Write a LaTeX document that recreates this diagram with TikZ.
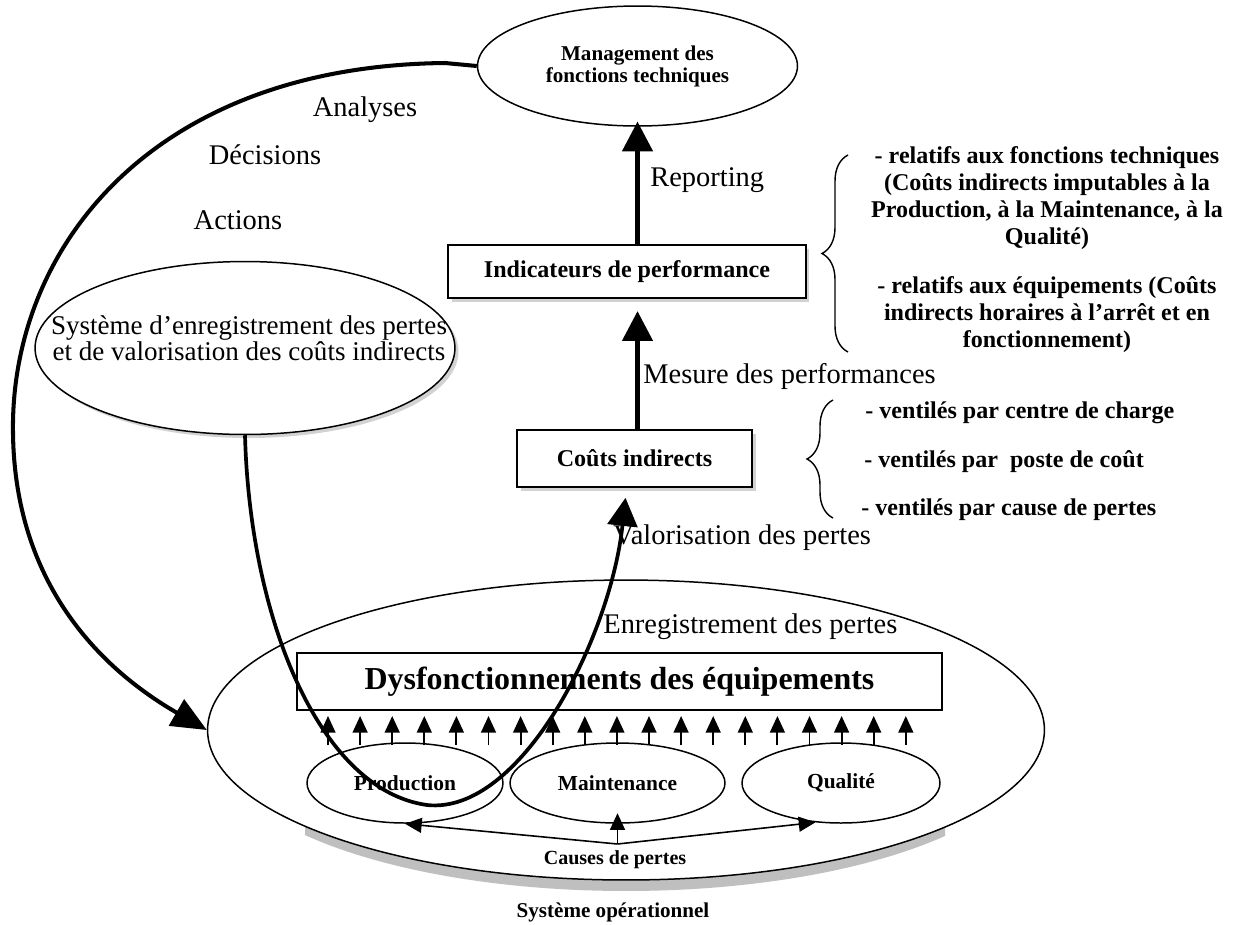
\documentclass[tikz,border=0pt]{standalone}
\usepackage{fontspec}
\setmainfont{Liberation Serif}
\usetikzlibrary{arrows.meta,shapes.geometric,decorations.pathreplacing,shadows,calc}
\begin{document}
\begin{tikzpicture}[x=0.02cm,y=-0.02cm,
  lbl/.style={inner sep=0pt,font=\fontsize{16.2}{19}\selectfont},
  shad/.style={drop shadow={shadow xshift=2pt,shadow yshift=-2pt,fill=gray!70}},
  bx/.style={draw,line width=0.9pt,fill=white,inner sep=0pt,font=\bfseries\fontsize{13.7}{16}\selectfont,shad},
  ell/.style={draw,ellipse,line width=0.85pt,inner sep=0pt,fill=white},
  smallell/.style={ell,minimum height=1.6cm,font=\bfseries\fontsize{12.2}{14}\selectfont},
  bigarrow/.style={line width=2.8pt,-{Triangle[length=17pt,width=17pt]}},
  curve/.style={line width=2.3pt},
  smallarr/.style={line width=1.1pt,-{Triangle[length=9.5pt,width=8.5pt]}},
  boldtxt/.style={inner sep=0pt,font=\bfseries\fontsize{13.7}{15.4}\selectfont,align=center},
  brc/.style={line width=0.8pt,decorate,decoration={brace,amplitude=14.8pt,aspect=0.5}},
]
\useasboundingbox (0,0) rectangle (1240,924);
\fill[white] (0,0) rectangle (1240,924);

% top management ellipse
\node[ell,minimum width=6.4cm,minimum height=2.4cm,align=center,
      font=\bfseries\fontsize{12}{12.5}\selectfont] (mgmt) at (637.5,66)
      {Management des\\fonctions techniques};

% boxes
\node[bx,minimum width=7.16cm,minimum height=1.06cm] (ind) at (627,271.5) {Indicateurs de performance};
\node[bx,minimum width=4.7cm,minimum height=1.14cm] (cout) at (634.5,458.5) {Coûts indirects};

% system ellipse (left)
\node[ell,minimum width=8.4cm,minimum height=3.46cm,shad] (sys) at (245,348) {};
\node[inner sep=0pt,align=center,font=\fontsize{15.4}{14.5}\selectfont] (systxt) at (249,338)
  {Système d’enregistrement des pertes\\et de valorisation des coûts indirects};

% labels
\node[lbl] (ana) at (365,110) {Analyses};
\node[lbl] (dec) at (265,155) {Décisions};
\node[lbl] (act) at (238,220) {Actions};
\node[lbl,anchor=west] (rep) at (650,180) {Reporting};
\node[lbl,anchor=west] (mes) at (643,376) {Mesure des performances};
\node[lbl,anchor=west] (val) at (613,538) {Valorisation des pertes};

% operational system shadow + ellipse
\begin{scope}
  \clip (305,780) rectangle (945,900);
  \fill[gray!50] (626,743) ellipse [x radius=8.2cm, y radius=2.96cm];
\end{scope}
\node[ell,minimum width=16.74cm,minimum height=6cm] (opsys) at (626,730) {};
\node[lbl,anchor=west] (enr) at (603,627) {Enregistrement des pertes};

\node[draw,line width=0.9pt,fill=white,minimum width=12.9cm,minimum height=1.14cm,inner sep=0pt,
      font=\bfseries\fontsize{18.2}{20}\selectfont] (dys) at (619.5,681.5) {Dysfonctionnements des équipements};

\node[smallell,minimum width=3.92cm] (prod) at (405,783) {Production};
\node[smallell,minimum width=4.3cm] (maint) at (617.5,783) {Maintenance};
\node[smallell,minimum width=3.96cm] (qual) at (841,783) {\vphantom{p}Qualité};

\foreach \k in {0,...,18}{
  \draw[smallarr] ({328+32.1*\k},745) -- ({328+32.1*\k},716);
}

\coordinate (cp) at (617.5,844);
\node[inner sep=0pt,font=\bfseries\fontsize{11.4}{13}\selectfont] (causes) at (615,860) {Causes de pertes};
\draw[smallarr,line width=0.9pt] (cp) -- (prod.south);
\draw[smallarr,line width=0.9pt,shorten >=-6pt] (cp) -- (maint.south);
\draw[smallarr,line width=0.9pt] (cp) -- (qual.237);

\node[inner sep=0pt,font=\bfseries\fontsize{12}{14}\selectfont] (opsystxt) at (613,912) {Système opérationnel};

% vertical arrows
\draw[bigarrow,shorten >=-3pt] (ind.north -| mgmt.south) -- (mgmt.south);
\draw[bigarrow,shorten >=7pt] (cout.north -| mgmt.south) -- (ind.south -| mgmt.south);

% big curve from management to operational system
\draw[curve,-{Triangle[length=20pt,width=17pt]}] (mgmt.west) -- (445,63)
  .. controls (150,66) and (10,250) .. (13,433)
  .. controls (15,600) and (120,680) .. (opsys.west);

% U curve from recording system to indirect costs
\draw[line width=2.1pt,-{Triangle[length=16pt,width=17pt]}] (sys.south)
  .. controls (250,620) and (320,790) .. (427,805)
  .. controls (520,815) and (610,640) .. ($(cout.south)+(-9,10)$);

% braces and right texts
\draw[brc] (848,352) -- (848,155);
\draw[brc] (833,518) -- (833,400);
\node[boldtxt] (rel1) at (1047,198) {- relatifs aux fonctions techniques\\(Coûts indirects imputables à la\\Production, à la Maintenance, à la\\Qualité)};
\node[boldtxt] (rel2) at (1047,315) {- relatifs aux équipements (Coûts\\indirects horaires à l’arrêt et en\\fonctionnement)};
\node[boldtxt,anchor=west] (v1) at (865,413) {- ventilés par centre de charge};
\node[boldtxt,anchor=west] (v2) at (864,462) {- ventilés par\ \ poste de coût};
\node[boldtxt,anchor=west] (v3) at (861,510) {- ventilés par cause de pertes};
\end{tikzpicture}
\end{document}
